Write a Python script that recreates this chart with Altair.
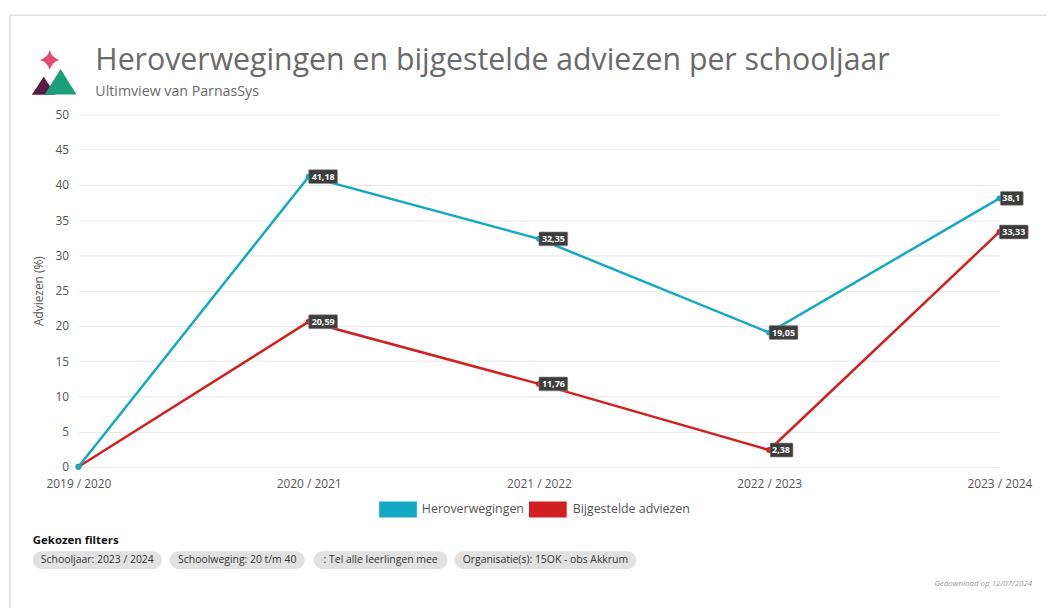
import altair as alt
import pandas as pd

# ---- data ----
years = ["2019 / 2020", "2020 / 2021", "2021 / 2022", "2022 / 2023", "2023 / 2024"]
heroverwegingen = [0, 41.18, 32.35, 19.05, 38.1]
bijgestelde = [0, 20.59, 11.76, 2.38, 33.33]
series_names = ["Heroverwegingen", "Bijgestelde adviezen"]
series_colors = ["#12a9c2", "#d21f1f"]
y_ticks = [0, 5, 10, 15, 20, 25, 30, 35, 40, 45, 50]
filters = ["Schooljaar: 2023 / 2024", "Schoolweging: 20 t/m 40",
           ": Tel alle leerlingen mee", "Organisatie(s): 15OK - obs Akkrum"]

rows = []
for name, vals in [(series_names[0], heroverwegingen), (series_names[1], bijgestelde)]:
    for yr, v in zip(years, vals):
        rows.append({"jaar": yr, "serie": name, "waarde": v,
                     "label": f"{v:g}".replace(".", ",")})
df = pd.DataFrame(rows)

FONT = "Open Sans"
W, H = 928, 355

xaxis = alt.Axis(title=None, labelAngle=0, labelFontSize=12, labelColor="#555",
                 labelPadding=12, ticks=False, domain=False, grid=False,
                 labelFlush=False, labelFont=FONT)
yaxis = alt.Axis(values=y_ticks, title="Adviezen (%)", titleFontSize=12,
                 titleFontWeight="normal", titleColor="#555", titlePadding=10,
                 labelFontSize=12, labelColor="#555", labelPadding=10, labelOverlap=False,
                 ticks=False, domain=False, gridColor="#e8e8e8", grid=True,
                 labelFont=FONT, titleFont=FONT)
xscale = alt.Scale(type="point", padding=0)
yscale = alt.Scale(domain=[0, 50], nice=False)


def X():
    return alt.X("jaar:N", sort=years, scale=xscale, axis=xaxis)


def Y():
    return alt.Y("waarde:Q", scale=yscale, axis=yaxis)


cenc = alt.Color("serie:N", scale=alt.Scale(domain=series_names, range=series_colors),
                 legend=None)

base = alt.Chart(df)
series_layers = []
# red series first, teal drawn on top
for name in [series_names[1], series_names[0]]:
    sb = base.transform_filter(alt.datum.serie == name)
    series_layers.append(sb.mark_line(strokeWidth=2.5).encode(x=X(), y=Y(), color=cenc))
    series_layers.append(sb.mark_point(filled=True, size=35, opacity=1).encode(
        x=X(), y=Y(), color=cenc))

lab = base.transform_filter("datum.waarde > 0")
box5 = lab.transform_filter("length(datum.label) >= 5").mark_rect(
    color="#3d3d3d", stroke="#8a8a8a", strokeWidth=0.6, cornerRadius=1,
    xOffset=0, x2Offset=29, yOffset=-7, y2Offset=7).encode(
    x=X(), x2="jaar:N", y=Y(), y2="waarde:Q")
box4 = lab.transform_filter("length(datum.label) < 5").mark_rect(
    color="#3d3d3d", stroke="#8a8a8a", strokeWidth=0.6, cornerRadius=1,
    xOffset=1, x2Offset=24, yOffset=-7, y2Offset=7).encode(
    x=X(), x2="jaar:N", y=Y(), y2="waarde:Q")
labels = lab.mark_text(align="left", baseline="middle", dx=3, fontSize=9,
                       fontWeight="bold", color="white", font=FONT).encode(
    x=X(), y=Y(), text="label:N")

one = alt.Chart(pd.DataFrame({"t": [0]}))


def txt(text, x, y, size, color="#666", weight="normal", align="left", style="normal",
        baseline="alphabetic"):
    return one.mark_text(text=text, align=align, baseline=baseline, fontSize=size,
                         color=color, fontWeight=weight, fontStyle=style,
                         font=FONT).encode(x=alt.value(x), y=alt.value(y))


# card border
border_left = one.mark_rule(color="#d6d6d6", strokeWidth=1.5).encode(
    x=alt.value(-69), y=alt.value(-100), y2=alt.value(497))
border_top = one.mark_rule(color="#e2e2e2", strokeWidth=1.5).encode(
    x=alt.value(-69), x2=alt.value(976), y=alt.value(-100))

# logo
maroon = one.mark_point(shape="M0,-0.75 L1,0.75 L-1,0.75 Z", filled=True, size=576,
                        color="#5b1a42", opacity=1).encode(
    x=alt.value(-35), y=alt.value(-29))
green = one.mark_point(shape="M0,-0.8 L1,0.8 L-1,0.8 Z", filled=True, size=1024,
                       color="#1c9f78", opacity=1).encode(x=alt.value(-18), y=alt.value(-33))
star = one.mark_point(shape="M0,-1 Q0.2,-0.2 1,0 Q0.2,0.2 0,1 Q-0.2,0.2 -1,0 Q-0.2,-0.2 0,-1 Z",
                      filled=True, size=400, color="#e8466f", opacity=1).encode(
    x=alt.value(-29), y=alt.value(-55))

title = txt("Heroverwegingen en bijgestelde adviezen per schooljaar", 17, -45, 30.5, color="#6a6a6a")
subtitle = txt("Ultimview van ParnasSys", 17, -19, 14.3, color="#6a6a6a")

# legend (manual)
leg = []
leg_x = [303, 454]
leg_tx = [346, 498]
for i, name in enumerate(series_names):
    leg.append(one.mark_rect(color=series_colors[i]).encode(
        x=alt.value(leg_x[i]), x2=alt.value(leg_x[i] + 38), y=alt.value(390), y2=alt.value(406)))
    leg.append(txt(name, leg_tx[i], 398, 12.5, color="#555", baseline="middle"))

# filters
filt = [txt("Gekozen filters", -46, 433, 11.5, color="#111", weight="bold")]
chip_x = [(-46, 84), (92, 228), (237, 372), (379, 562)]
for (a, b), f in zip(chip_x, filters):
    filt.append(one.mark_rect(color="#e1e1e1", cornerRadius=9).encode(
        x=alt.value(a), x2=alt.value(b), y=alt.value(440), y2=alt.value(458)))
    filt.append(txt(f, (a + b) / 2, 449, 10.5, color="#333", align="center", baseline="middle"))

dl = txt("Gedownload op 12/07/2024", 961, 475, 8, color="#999", align="right", style="italic")

chart = alt.layer(
    border_left, border_top, *series_layers, box5, box4, labels,
    maroon, green, star, title, subtitle, *leg, *filt, dl
).properties(
    width=W, height=H, autosize=alt.AutoSizeParams(type="none"),
    padding={"left": 71, "top": 105, "right": 48, "bottom": 142},
    background="white"
).configure_view(stroke=None)

chart.save("out.html", embed_options={"renderer": "svg", "actions": False})
